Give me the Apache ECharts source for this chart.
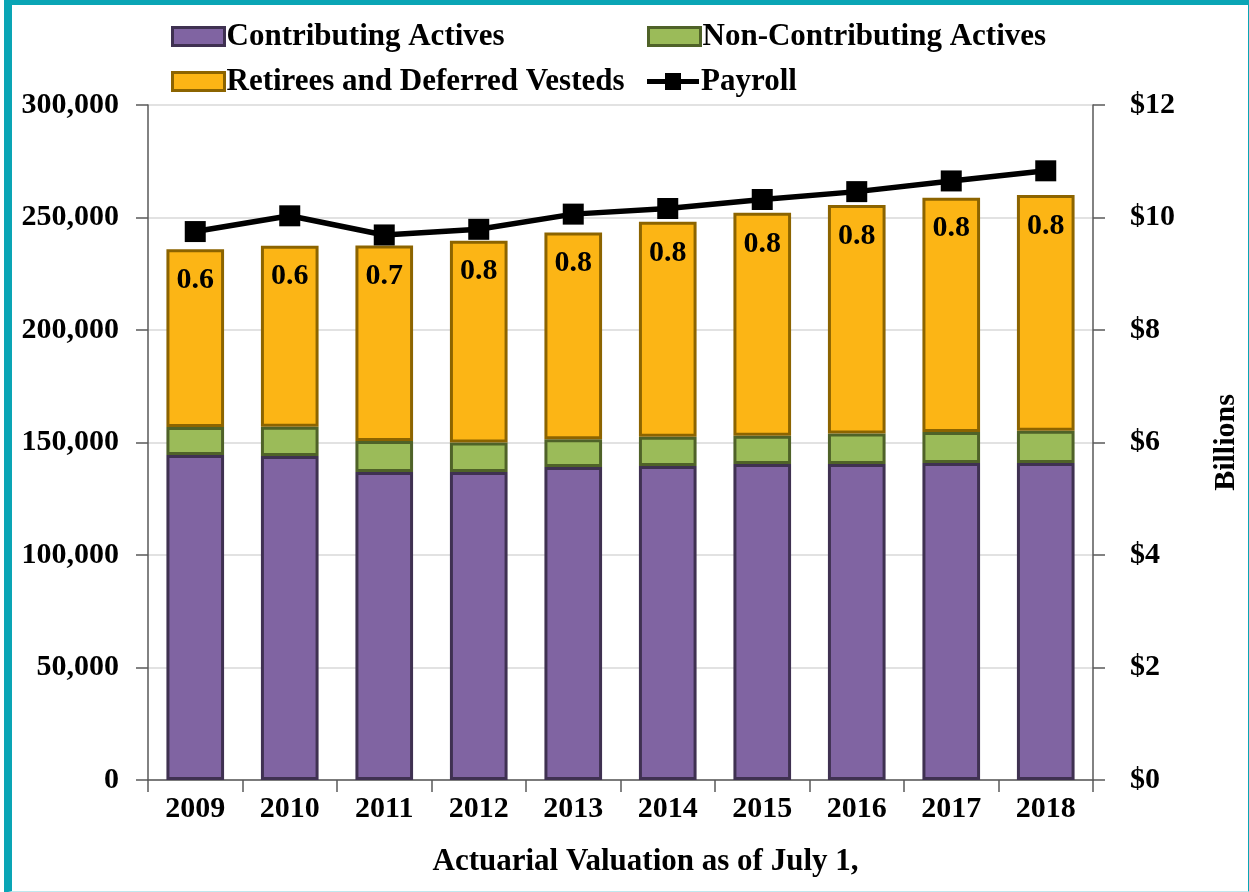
<!DOCTYPE html>
<html>
<head>
<meta charset="utf-8">
<script src="https://cdn.jsdelivr.net/npm/echarts@6/dist/echarts.min.js"></script>
<style>
html,body{margin:0;padding:0;background:#fff;}
#chart{position:absolute;left:0;top:0;width:1249px;height:892px;}
#frame{position:absolute;left:4px;top:0;width:1236px;height:886px;border-left:8px solid #0aa5b5;border-top:5px solid #0aa5b5;border-right:3px solid #0aa5b5;border-bottom:2px solid #bfe8ee;pointer-events:none;}
</style>
</head>
<body>
<div id="chart"></div>
<div id="frame"></div>
<script>
const categories = ['2009','2010','2011','2012','2013','2014','2015','2016','2017','2018'];
const contributingActives = [144400,144000,136900,136900,139100,139600,140400,140400,140900,140900];
const nonContributingActives = [12500,13000,13800,13100,12300,13000,12600,13600,13800,14300];
const retireesDeferred = [79000,80500,86800,89700,91900,95500,99100,101600,104100,104800];
const payroll = [9.75,10.03,9.69,9.79,10.06,10.16,10.32,10.46,10.65,10.83];
const ratioLabels = ['0.6','0.6','0.7','0.8','0.8','0.8','0.8','0.8','0.8','0.8'];

const FONT = 'Liberation Serif';
const txt = {fontFamily: FONT, fontWeight: 'bold', fontSize: 30, color: '#000'};
const txtBig = Object.assign({}, txt, {fontSize: 31});

const chart = echarts.init(document.getElementById('chart'), null, {renderer: 'canvas'});
const legendBase = {
  itemWidth: 52, itemHeight: 18, itemGap: 4, icon: 'rect',
  textStyle: Object.assign({}, txtBig, {padding: [0,0,0,-3]})
};
const payrollIcon = 'path://M0,6H18V0H34V6H52V11H34V17H18V11H0Z';
chart.setOption({
  animation: false,
  backgroundColor: '#fff',
  legend: [
    Object.assign({}, legendBase, {left: 166, top: 16, itemStyle: {borderWidth: 3}, data: ['Contributing Actives']}),
    Object.assign({}, legendBase, {left: 642, top: 16, itemStyle: {borderWidth: 3}, data: ['Non-Contributing Actives']}),
    Object.assign({}, legendBase, {left: 166, top: 61, itemStyle: {borderWidth: 3}, data: ['Retirees and Deferred Vesteds']}),
    Object.assign({}, legendBase, {left: 642, top: 61, data: [{name: 'Payroll', icon: payrollIcon, itemStyle: {color: '#000', borderWidth: 0}}]})
  ],
  grid: {left: 148, right: 152, top: 105, bottom: 112, containLabel: false},
  xAxis: {
    type: 'category', data: categories,
    name: 'Actuarial Valuation as of July 1,', nameLocation: 'middle', nameGap: 66,
    nameTextStyle: Object.assign({}, txtBig, {padding: [0,0,0,50]}),
    axisLine: {lineStyle: {color: '#595959', width: 1.5}},
    axisTick: {show: true, alignWithLabel: false, length: 12, lineStyle: {color: '#595959', width: 1.5}},
    axisLabel: Object.assign({}, txt, {margin: 14})
  },
  yAxis: [
    {
      type: 'value', min: 0, max: 300000, interval: 50000,
      axisLine: {show: true, lineStyle: {color: '#595959', width: 1.5}},
      axisTick: {show: true, length: 12, lineStyle: {color: '#595959', width: 1.5}},
      splitLine: {lineStyle: {color: '#d9d9d9', width: 1.5}},
      axisLabel: Object.assign({}, txt, {margin: 29, formatter: v => v.toLocaleString('en-US')})
    },
    {
      type: 'value', min: 0, max: 12, interval: 2, position: 'right',
      name: 'Billions', nameLocation: 'middle', nameGap: 118, nameRotate: 90,
      nameTextStyle: txt,
      axisLine: {show: true, lineStyle: {color: '#595959', width: 1.5}},
      axisTick: {show: true, length: 12, lineStyle: {color: '#595959', width: 1.5}},
      splitLine: {show: false},
      axisLabel: Object.assign({}, txt, {margin: 37, formatter: v => '$' + v})
    }
  ],
  series: [
    {
      name: 'Contributing Actives', type: 'bar', stack: 'm', data: contributingActives,
      barCategoryGap: '39%',
      itemStyle: {color: '#8064a2', borderColor: '#3f3151', borderWidth: 3}
    },
    {
      name: 'Non-Contributing Actives', type: 'bar', stack: 'm', data: nonContributingActives,
      itemStyle: {color: '#9bbb59', borderColor: '#4f6228', borderWidth: 3}
    },
    {
      name: 'Retirees and Deferred Vesteds', type: 'bar', stack: 'm', data: retireesDeferred,
      itemStyle: {color: '#fcb515', borderColor: '#8c6400', borderWidth: 3},
      label: Object.assign({}, txt, {
        show: true, position: 'insideTop', distance: 16,
        formatter: p => ratioLabels[p.dataIndex]
      })
    },
    {
      name: 'Payroll', type: 'line', yAxisIndex: 1, data: payroll,
      symbol: 'rect', symbolSize: 21,
      lineStyle: {color: '#000', width: 5.5},
      itemStyle: {color: '#000'}
    }
  ]
});
</script>
</body>
</html>
